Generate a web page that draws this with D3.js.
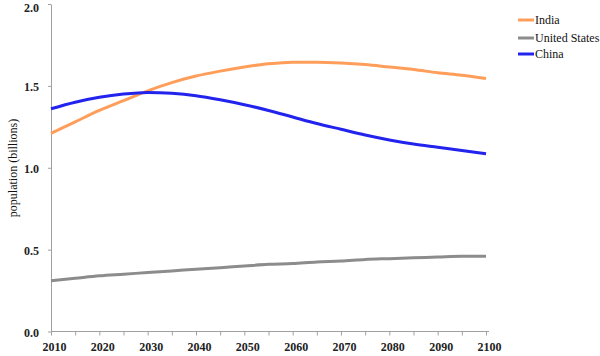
<!DOCTYPE html>
<html><head><meta charset="utf-8">
<script src="https://cdn.jsdelivr.net/npm/d3@7"></script>
<style>body{margin:0;background:#fff}svg{display:block}</style>
</head><body>
<script>
const years = [2010,2015,2020,2025,2030,2035,2040,2045,2050,2055,2060,2065,2070,2075,2080,2085,2090,2095,2100];
const india = [1.21,1.28,1.35,1.41,1.47,1.52,1.56,1.59,1.615,1.635,1.645,1.645,1.64,1.63,1.615,1.60,1.58,1.565,1.545];
const unitedStates = [0.31,0.325,0.34,0.35,0.36,0.37,0.38,0.39,0.40,0.41,0.415,0.425,0.43,0.44,0.445,0.45,0.455,0.46,0.46];
const china = [1.36,1.40,1.43,1.45,1.46,1.455,1.44,1.415,1.385,1.35,1.31,1.27,1.235,1.20,1.17,1.145,1.125,1.105,1.085];
const seriesNames = ["India","United States","China"];
const seriesColors = ["#FF9E5A","#8C8C8C","#2323EE"];
const yTicks = [0,0.5,1.0,1.5,2.0];
const xLabelTicks = [2010,2020,2030,2040,2050,2060,2070,2080,2090,2100];

const W=600,H=356;
const svg=d3.select("body").append("svg").attr("width",W).attr("height",H);
const x=d3.scaleLinear().domain([2010,2100]).range([51,486]);
const y=d3.scaleLinear().domain([0,2]).range([331.5,4]);
const font="'Liberation Serif', 'DejaVu Serif', serif";

// axes
const xa=svg.append("g").attr("transform","translate(0,331.5)")
  .call(d3.axisBottom(x).tickValues(d3.range(2010,2101,5)).tickSize(4).tickFormat(d=>xLabelTicks.includes(d)?d:"").tickSizeOuter(0));
xa.select(".domain").attr("d","M51,0H489");
const ya=svg.append("g").attr("transform","translate(51,0)")
  .call(d3.axisLeft(y).tickValues(yTicks).tickSize(3).tickFormat(d3.format(".1f")).tickSizeOuter(0));
[xa,ya].forEach(g=>{g.selectAll("path,line").attr("stroke","#a0a0a0");
  g.selectAll("text").attr("font-family",font).attr("font-size",12).attr("font-weight","bold").attr("fill","#222");});
xa.selectAll("text").attr("dy","1.05em").attr("dx",3);
ya.selectAll("text").attr("dx",-6).attr("dy",d=>d===2?"0.6em":"0.4em");

svg.append("text").attr("transform","translate(17,168) rotate(-90)").attr("text-anchor","middle")
  .attr("font-family",font).attr("font-size",12).attr("fill","#111").text("population (billions)");

const data=[india,unitedStates,china];
const line=d3.line().x((d,i)=>x(years[i])).y(d=>y(d)).curve(d3.curveMonotoneX);
data.forEach((s,k)=>{
  svg.append("path").attr("d",line(s)).attr("fill","none").attr("stroke",seriesColors[k]).attr("stroke-width",3);
});

// legend
const lg=svg.append("g");
seriesNames.forEach((n,k)=>{
  const yy=[20,38,54][k];
  lg.append("line").attr("x1",518).attr("x2",534).attr("y1",yy).attr("y2",yy).attr("stroke",seriesColors[k]).attr("stroke-width",3);
  lg.append("text").attr("x",535).attr("y",yy+4).attr("font-family",font).attr("font-size",12).attr("fill","#111").text(n);
});
</script>
</body></html>
